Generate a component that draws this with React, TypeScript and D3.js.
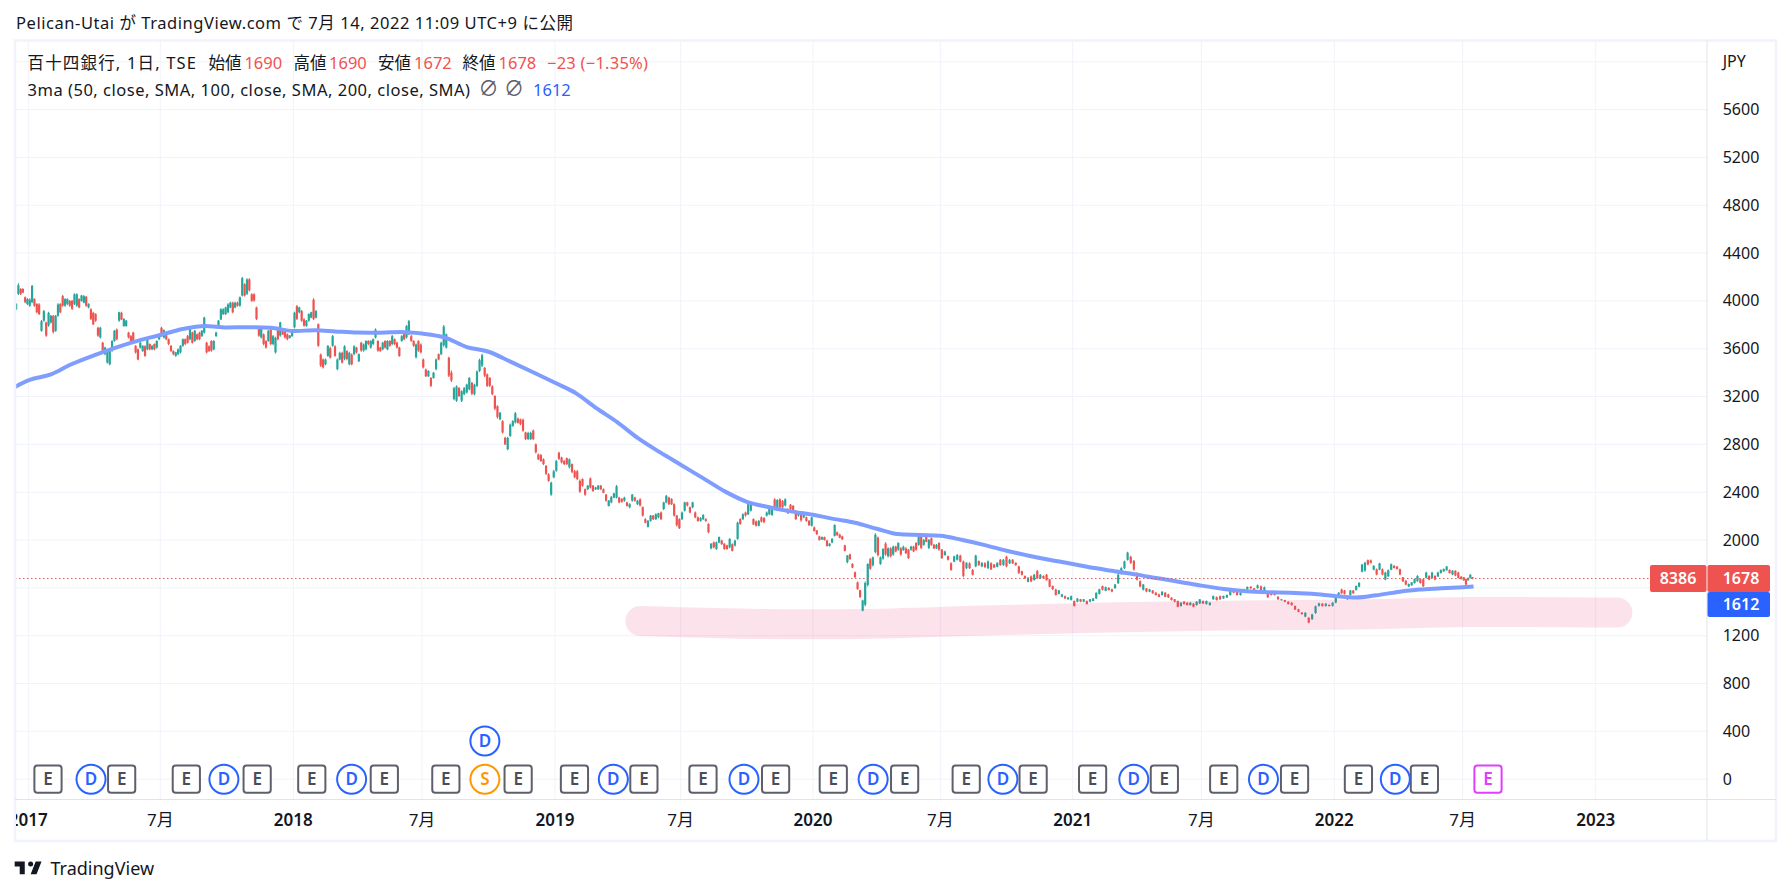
import * as d3 from 'd3';

type Bar = [number, number, number, number]; // open, high, low, close

const utc = (s: string) => new Date(s + 'T00:00:00Z');

// candles, one list per half year
const bars2017a: Bar[] = [[3930,3980,3924,3975],[4060,4148,4050,4130],[4100,4106,4050,4060],[4100,4106,4064,4070],[4030,4036,3980,3990],[3975,4022,3966,4015],[3960,4022,3952,4010],[3990,4134,3980,4125],[4015,4022,3952,3960],[3975,3980,3896,3905],[3970,3980,3882,3890],[3750,3840,3742,3830],[3835,3924,3826,3915],[3820,3826,3700,3710],[3795,3910,3784,3900],[3820,3882,3812,3875],[3875,3882,3728,3740],[3750,3882,3742,3875],[3875,3980,3868,3970],[3975,3980,3896,3905],[4040,4050,3952,3960],[3960,4022,3952,4015],[3975,4022,3966,4015],[4000,4008,3952,3960],[4000,4008,3924,3935],[3975,4064,3966,4055],[3960,4064,3952,4055],[4015,4022,3938,3945],[4000,4050,3994,4045],[3985,4050,3980,4040],[4035,4042,3952,3960],[3945,3980,3938,3975],[3930,3938,3840,3850],[3900,3910,3798,3805],[3890,3896,3826,3835],[3775,3784,3700,3710],[3695,3784,3686,3775],[3650,3658,3560,3570],[3555,3616,3546,3610],[3485,3588,3476,3580],[3470,3602,3462,3595],[3585,3672,3574,3665],[3665,3756,3658,3750],[3760,3770,3672,3680],[3835,3910,3826,3905],[3900,3910,3840,3845],[3790,3854,3784,3850],[3790,3840,3784,3835],[3735,3742,3686,3695],[3705,3714,3658,3665],[3735,3742,3644,3655],[3625,3630,3560,3570],[3595,3602,3504,3510],[3610,3658,3602,3650],[3580,3630,3574,3625],[3620,3630,3532,3540],[3595,3686,3588,3680],[3640,3644,3588,3595],[3595,3630,3588,3625],[3640,3644,3588,3595],[3610,3672,3602,3665],[3680,3728,3672,3720]];
const bars2017b: Bar[] = [[3775,3784,3700,3710],[3695,3762,3686,3755],[3720,3728,3672,3680],[3680,3686,3630,3640],[3625,3630,3574,3580],[3580,3588,3546,3555],[3540,3574,3532,3570],[3555,3602,3546,3595],[3570,3630,3560,3625],[3625,3686,3616,3680],[3680,3686,3630,3640],[3705,3714,3644,3650],[3680,3784,3672,3775],[3735,3742,3644,3650],[3665,3756,3658,3750],[3720,3728,3672,3680],[3735,3742,3672,3680],[3705,3756,3700,3750],[3735,3868,3728,3860],[3650,3658,3560,3570],[3620,3630,3574,3580],[3665,3672,3574,3585],[3595,3672,3588,3665],[3705,3742,3700,3735],[3775,3840,3770,3835],[3845,3938,3840,3930],[3890,3938,3882,3930],[3890,3952,3882,3945],[3905,3980,3896,3970],[3945,3994,3938,3985],[3985,3994,3896,3905],[3945,3994,3938,3985],[3985,3994,3952,3960],[3960,4036,3952,4030],[4045,4199,4036,4190],[4140,4148,4036,4045],[4060,4190,4050,4180],[4180,4190,4078,4090],[4055,4064,3994,4000],[4055,4064,3994,4005],[3945,3952,3840,3850],[3775,3784,3700,3710],[3695,3784,3686,3775],[3720,3728,3630,3640],[3665,3672,3602,3610],[3665,3756,3658,3750],[3760,3770,3630,3640],[3640,3714,3630,3705],[3570,3700,3560,3690],[3760,3770,3672,3680],[3710,3826,3700,3820],[3765,3770,3714,3720],[3760,3770,3686,3695],[3720,3728,3672,3680],[3690,3714,3686,3710],[3705,3756,3700,3750]];
const bars2018a: Bar[] = [[3780,3910,3770,3900],[3955,3966,3840,3850],[3905,3952,3896,3945],[3915,3924,3826,3835],[3845,3854,3784,3795],[3790,3840,3784,3835],[3835,3896,3826,3890],[3860,3910,3854,3905],[4010,4022,3840,3850],[3860,3924,3854,3915],[3805,3812,3616,3625],[3550,3560,3448,3460],[3510,3518,3434,3445],[3470,3518,3462,3510],[3540,3630,3532,3625],[3605,3616,3518,3525],[3625,3714,3616,3705],[3620,3630,3532,3540],[3430,3518,3420,3510],[3510,3574,3504,3565],[3565,3574,3476,3485],[3515,3630,3504,3620],[3580,3588,3504,3515],[3470,3574,3462,3565],[3550,3560,3462,3470],[3555,3630,3546,3620],[3610,3616,3560,3570],[3495,3560,3490,3555],[3650,3658,3574,3585],[3585,3644,3574,3635],[3595,3672,3588,3665],[3665,3672,3630,3640],[3610,3672,3602,3665],[3640,3686,3630,3680],[3695,3770,3686,3760],[3665,3672,3574,3585],[3610,3616,3574,3580],[3595,3658,3588,3650],[3665,3672,3602,3610],[3595,3672,3588,3665],[3665,3672,3616,3625],[3640,3714,3630,3705],[3680,3686,3630,3640],[3650,3658,3602,3610],[3610,3616,3532,3540],[3665,3714,3658,3705],[3735,3742,3672,3680],[3695,3798,3686,3790],[3725,3840,3714,3830],[3705,3714,3658,3665],[3665,3672,3616,3625],[3530,3644,3518,3635],[3665,3672,3574,3585],[3635,3644,3560,3570]];
const bars2018b: Bar[] = [[3510,3518,3434,3445],[3425,3434,3364,3370],[3370,3420,3364,3415],[3355,3364,3280,3290],[3355,3406,3350,3400],[3430,3518,3420,3510],[3555,3560,3504,3510],[3555,3658,3546,3650],[3630,3798,3616,3785],[3610,3728,3602,3720],[3525,3532,3364,3375],[3400,3419,3322,3335],[3180,3280,3169,3270],[3165,3294,3155,3285],[3270,3280,3197,3205],[3165,3252,3155,3245],[3220,3280,3211,3270],[3235,3308,3225,3300],[3260,3364,3253,3355],[3315,3322,3211,3225],[3220,3308,3211,3300],[3290,3419,3280,3410],[3415,3517,3405,3505],[3460,3558,3447,3545],[3440,3447,3364,3375],[3385,3392,3280,3290],[3355,3364,3280,3290],[3285,3294,3211,3220],[3205,3211,3086,3100],[3120,3127,3016,3030],[3010,3072,3002,3065],[2995,3002,2891,2900],[2855,2863,2794,2800],[2760,2863,2752,2855],[2870,2974,2863,2965],[2955,3002,2947,2995],[2985,3072,2974,3060],[3015,3025,2974,2980],[3010,3016,2961,2970],[3005,3016,2905,2915],[2900,2905,2836,2845],[2845,2905,2836,2895],[2845,2905,2836,2895],[2915,2924,2836,2845],[2800,2808,2724,2735],[2715,2724,2669,2675],[2710,2719,2655,2660],[2675,2683,2627,2635],[2620,2627,2544,2555],[2550,2558,2488,2495],[2380,2488,2371,2480],[2525,2585,2516,2575]];
const bars2019a: Bar[] = [[2580,2669,2571,2660],[2730,2738,2669,2680],[2690,2697,2641,2650],[2660,2669,2627,2635],[2685,2691,2627,2635],[2610,2683,2599,2675],[2635,2641,2558,2570],[2575,2585,2516,2525],[2575,2585,2502,2510],[2495,2507,2396,2405],[2510,2516,2446,2455],[2425,2432,2371,2380],[2425,2460,2418,2455],[2515,2524,2432,2440],[2455,2460,2405,2410],[2425,2446,2418,2440],[2425,2460,2418,2455],[2455,2460,2418,2425],[2425,2432,2391,2395],[2380,2385,2321,2330],[2285,2335,2280,2330],[2315,2368,2307,2360],[2355,2396,2349,2390],[2355,2460,2349,2450],[2355,2363,2307,2315],[2345,2349,2313,2320],[2330,2363,2321,2355],[2315,2321,2280,2285],[2275,2307,2266,2300],[2330,2385,2321,2380],[2355,2363,2321,2330],[2300,2335,2293,2330],[2340,2349,2280,2290],[2275,2280,2196,2205],[2175,2182,2140,2145],[2110,2168,2104,2160],[2160,2210,2154,2205],[2205,2210,2168,2175],[2175,2224,2168,2215],[2190,2229,2182,2225],[2230,2238,2168,2175],[2260,2321,2252,2315],[2315,2377,2307,2370],[2355,2363,2293,2300],[2345,2349,2293,2300],[2300,2307,2196,2205],[2205,2210,2113,2125],[2175,2182,2093,2100]];
const bars2019b: Bar[] = [[2175,2238,2168,2230],[2245,2321,2238,2315],[2315,2321,2280,2290],[2275,2280,2224,2230],[2275,2321,2266,2315],[2230,2238,2182,2190],[2190,2196,2154,2160],[2160,2191,2154,2185],[2175,2216,2168,2210],[2175,2182,2154,2160],[2135,2140,2057,2065],[1930,1974,1924,1970],[1980,1988,1932,1940],[1925,1988,1918,1980],[1980,2029,1974,2025],[1995,2002,1960,1965],[1970,1974,1918,1925],[1955,1960,1918,1925],[1940,2015,1932,2010],[1965,1974,1904,1910],[1955,2002,1946,1995],[2010,2154,2002,2145],[2175,2182,2127,2135],[2175,2224,2168,2215],[2230,2238,2196,2205],[2215,2307,2210,2300],[2245,2321,2238,2310],[2175,2182,2127,2130],[2155,2163,2113,2120],[2120,2168,2113,2160],[2190,2196,2146,2155],[2185,2191,2140,2150],[2205,2238,2196,2230],[2215,2280,2210,2270],[2210,2280,2204,2270],[2340,2349,2252,2260],[2275,2341,2266,2335],[2340,2349,2266,2275],[2325,2335,2266,2275],[2290,2349,2280,2340],[2260,2266,2218,2225],[2295,2302,2252,2260],[2285,2293,2238,2245],[2245,2252,2168,2175],[2205,2238,2196,2230],[2230,2238,2154,2165],[2190,2229,2182,2225],[2190,2196,2154,2160],[2160,2168,2118,2125],[2120,2196,2113,2190]];
const bars2020a: Bar[] = [[2105,2113,2071,2075],[2080,2085,2043,2050],[2030,2035,1996,2000],[2005,2029,2002,2025],[2025,2029,1996,2000],[1995,2002,1946,1950],[1950,1974,1946,1970],[1980,2015,1974,2010],[2035,2132,2029,2125],[2065,2071,2035,2040],[2045,2052,2015,2020],[2030,2035,2002,2005],[1955,1960,1904,1910],[1815,1876,1807,1870],[1880,1885,1835,1840],[1800,1807,1765,1770],[1730,1737,1682,1690],[1645,1654,1585,1590],[1580,1585,1515,1525],[1410,1501,1404,1495],[1460,1654,1446,1640],[1625,1807,1612,1800],[1840,1849,1751,1760],[1790,1863,1779,1855],[1900,2057,1890,2045],[2020,2029,1863,1875],[1800,1863,1793,1855],[1845,1932,1835,1925],[1970,1981,1869,1880],[1865,1939,1855,1930],[1930,1939,1855,1865],[1880,1953,1869,1945],[1945,1953,1897,1905],[1920,1981,1911,1975],[1930,1939,1869,1880],[1915,1953,1911,1945],[1930,1939,1883,1890],[1920,1925,1842,1850],[1920,1953,1911,1945],[1945,1953,1897,1905],[1975,1981,1911,1920],[1960,2036,1953,2030],[2030,2036,1925,1935],[1960,2008,1953,2000],[2035,2042,1981,1985],[1935,2008,1925,2000],[2015,2022,1953,1960],[1960,1967,1925,1930],[1930,1967,1925,1960],[1975,1981,1911,1920]];
const bars2020b: Bar[] = [[1920,1925,1842,1850],[1875,1911,1869,1905],[1865,1869,1828,1835],[1805,1814,1744,1750],[1820,1869,1814,1865],[1835,1883,1828,1875],[1870,1878,1814,1820],[1820,1828,1689,1700],[1765,1814,1758,1810],[1805,1814,1758,1765],[1750,1758,1703,1710],[1780,1878,1772,1870],[1825,1828,1786,1790],[1780,1814,1772,1810],[1805,1814,1766,1775],[1765,1828,1758,1820],[1805,1814,1750,1755],[1795,1800,1766,1770],[1775,1814,1772,1810],[1835,1842,1786,1790],[1790,1842,1786,1835],[1860,1869,1772,1780],[1805,1842,1800,1835],[1835,1842,1800,1805],[1810,1814,1786,1790],[1780,1786,1716,1725],[1740,1744,1703,1710],[1700,1703,1675,1680],[1650,1689,1647,1685],[1695,1703,1647,1655],[1665,1716,1661,1710],[1740,1750,1675,1680],[1680,1716,1675,1710],[1700,1703,1675,1680],[1710,1716,1661,1665],[1670,1675,1605,1610],[1615,1619,1583,1590],[1585,1592,1536,1540],[1550,1583,1544,1580],[1525,1550,1522,1545],[1530,1536,1508,1512],[1505,1522,1500,1520],[1500,1536,1494,1530]];
const bars2021a: Bar[] = [[1490,1494,1444,1450],[1485,1516,1480,1510],[1505,1508,1480,1485],[1485,1508,1480,1505],[1490,1494,1461,1465],[1485,1508,1480,1505],[1490,1516,1488,1510],[1512,1564,1508,1558],[1550,1592,1544,1588],[1615,1619,1578,1585],[1575,1611,1572,1605],[1600,1605,1578,1582],[1588,1592,1564,1570],[1598,1633,1592,1628],[1640,1716,1633,1710],[1718,1772,1711,1765],[1765,1828,1758,1820],[1835,1903,1828,1895],[1860,1869,1800,1810],[1825,1833,1744,1755],[1722,1730,1661,1670],[1655,1661,1605,1612],[1585,1633,1578,1628],[1595,1600,1564,1570],[1568,1592,1564,1588],[1578,1583,1550,1555],[1560,1564,1536,1540],[1545,1550,1522,1525],[1540,1572,1536,1568],[1560,1564,1522,1525],[1545,1550,1516,1520],[1518,1522,1494,1498],[1505,1508,1480,1485],[1490,1494,1438,1442],[1448,1480,1444,1476],[1485,1488,1461,1465],[1476,1480,1452,1456],[1456,1480,1452,1476],[1468,1472,1438,1442],[1456,1488,1452,1484],[1470,1508,1466,1504]];
const bars2021b: Bar[] = [[1490,1494,1466,1470],[1465,1494,1461,1490],[1456,1480,1452,1476],[1505,1536,1500,1532],[1522,1527,1494,1498],[1530,1536,1500,1504],[1512,1536,1508,1532],[1520,1544,1516,1540],[1540,1578,1536,1574],[1588,1592,1555,1560],[1572,1578,1536,1540],[1540,1564,1536,1560],[1568,1592,1564,1588],[1588,1611,1583,1608],[1610,1614,1592,1596],[1596,1600,1578,1582],[1598,1628,1592,1622],[1612,1619,1555,1562],[1570,1611,1564,1605],[1560,1564,1516,1522],[1552,1555,1536,1540],[1558,1564,1536,1540],[1526,1530,1500,1504],[1497,1508,1494,1505],[1498,1500,1480,1484],[1484,1488,1461,1465],[1476,1480,1452,1456],[1448,1452,1416,1420],[1420,1425,1397,1400],[1394,1397,1377,1380],[1360,1397,1355,1392],[1350,1355,1305,1310],[1338,1383,1333,1378],[1390,1452,1383,1446],[1450,1475,1444,1470],[1468,1472,1444,1448],[1448,1472,1444,1468],[1458,1461,1444,1448],[1450,1480,1444,1476]];
const bars2022a: Bar[] = [[1478,1522,1472,1518],[1526,1564,1522,1560],[1586,1592,1550,1555],[1578,1583,1544,1550],[1530,1536,1500,1505],[1540,1583,1536,1578],[1578,1583,1550,1555],[1582,1619,1578,1615],[1610,1647,1605,1642],[1735,1800,1730,1795],[1745,1818,1734,1810],[1832,1838,1790,1795],[1830,1838,1804,1810],[1752,1790,1748,1785],[1755,1762,1706,1712],[1752,1810,1748,1805],[1755,1762,1706,1712],[1670,1734,1664,1728],[1698,1754,1692,1748],[1752,1804,1748,1798],[1785,1790,1762,1766],[1778,1782,1754,1758],[1755,1762,1706,1712],[1688,1692,1650,1655],[1660,1664,1622,1628],[1612,1636,1608,1632],[1622,1650,1617,1646],[1640,1678,1636,1674],[1656,1706,1650,1700],[1672,1678,1636,1640],[1672,1678,1608,1615],[1684,1734,1678,1728],[1700,1706,1664,1670],[1684,1734,1678,1728],[1700,1706,1664,1670],[1696,1734,1692,1728],[1724,1754,1720,1750],[1738,1762,1734,1758],[1748,1782,1743,1778],[1750,1754,1720,1724],[1712,1748,1706,1744],[1742,1748,1698,1704],[1728,1734,1678,1684],[1694,1698,1670,1674]];
const bars2022b: Bar[] = [[1688,1692,1659,1664],[1672,1678,1622,1628],[1664,1687,1659,1682],[1684,1715,1678,1710],[1690,1690,1672,1678]];

const barSpans: { bars: Bar[]; from: string; to: string }[] = [
  { bars: bars2017a, from: '2016-12-13', to: '2017-07-01' },
  { bars: bars2017b, from: '2017-07-01', to: '2018-01-01' },
  { bars: bars2018a, from: '2018-01-01', to: '2018-07-01' },
  { bars: bars2018b, from: '2018-07-01', to: '2019-01-01' },
  { bars: bars2019a, from: '2019-01-01', to: '2019-07-01' },
  { bars: bars2019b, from: '2019-07-01', to: '2020-01-01' },
  { bars: bars2020a, from: '2020-01-01', to: '2020-07-01' },
  { bars: bars2020b, from: '2020-07-01', to: '2021-01-01' },
  { bars: bars2021a, from: '2021-01-01', to: '2021-07-01' },
  { bars: bars2021b, from: '2021-07-01', to: '2022-01-01' },
  { bars: bars2022a, from: '2022-01-01', to: '2022-07-01' },
  { bars: bars2022b, from: '2022-07-01', to: '2022-07-16' },
];

// 200 day average: left edge, then the first of each month, then the last bar
const maStart = 3280;
const maMonthly = [
  3335, 3385, 3470, 3545, 3610, 3668, 3715, 3765, 3790, 3778, 3780, 3775,
  3748, 3755, 3745, 3735, 3734, 3740, 3727, 3695, 3614, 3575, 3490, 3405,
  3315, 3225, 3105, 2985, 2850, 2735, 2630, 2518, 2405, 2320, 2275, 2240,
  2212, 2175, 2145, 2095, 2050, 2042, 2036, 2000, 1958, 1911, 1869, 1833,
  1800, 1766, 1739, 1711, 1680, 1650, 1619, 1591, 1572, 1563, 1560, 1550,
  1533, 1519, 1538, 1566, 1586, 1596, 1606,
];
const maEnd = 1612;

const priceTicks = [0, 400, 800, 1200, 1600, 2000, 2400, 2800, 3200, 3600, 4000, 4400, 4800, 5200, 5600, 6000];
// 1600 sits under the last value tags, 6000 is where the currency goes
const hiddenPriceLabels = [1600, 6000];
const timeTicks = [
  { date: '2017-01-01', label: '2017', year: true },
  { date: '2017-07-01', label: '7月', year: false },
  { date: '2018-01-01', label: '2018', year: true },
  { date: '2018-07-01', label: '7月', year: false },
  { date: '2019-01-01', label: '2019', year: true },
  { date: '2019-07-01', label: '7月', year: false },
  { date: '2020-01-01', label: '2020', year: true },
  { date: '2020-07-01', label: '7月', year: false },
  { date: '2021-01-01', label: '2021', year: true },
  { date: '2021-07-01', label: '7月', year: false },
  { date: '2022-01-01', label: '2022', year: true },
  { date: '2022-07-01', label: '7月', year: false },
  { date: '2023-01-01', label: '2023', year: true },
];
const tickPixels = [28.3, 160.3, 293.3, 422, 555, 680.7, 813, 940.3, 1072.7, 1201.3, 1334.3, 1462.7, 1595.7];

const earnings = [
  '2017-01-28', '2017-05-09', '2017-08-06', '2017-11-12', '2018-01-27', '2018-05-09', '2018-08-03', '2018-11-11',
  '2019-01-29', '2019-05-09', '2019-08-01', '2019-11-10', '2020-01-30', '2020-05-11', '2020-08-06', '2020-11-07',
  '2021-01-29', '2021-05-10', '2021-08-01', '2021-11-07', '2022-02-04', '2022-05-08',
];
const nextEarnings = '2022-08-05';
const dividends = [
  '2017-03-28', '2017-09-27', '2018-03-24', '2019-03-26', '2019-09-27', '2020-03-27',
  '2020-09-26', '2021-03-28', '2021-09-25', '2022-03-28',
];
const splitDate = '2018-09-26';

// the hand drawn marker stroke
const brushDates = ['2019-05-04', '2019-10-19', '2020-03-08', '2020-09-22', '2021-06-19', '2022-02-06', '2022-07-07', '2023-01-31'];
const brushPrices = [1323, 1298, 1298, 1331, 1365, 1377, 1398, 1394];

const lastClose = 1678;
const lastMa = 1612;

const UP = '#26a69a';
const DOWN = '#ef5350';
const BLUE = '#2962ff';
const INK = '#131722';
const FONT = "'Noto Sans','Noto Sans CJK JP',sans-serif";

const plot = { left: 15, right: 1707, top: 40.5, bottom: 799.5, frameRight: 1776, frameBottom: 841 };

const x = d3.scaleUtc()
  .domain([utc('2016-12-13'), ...timeTicks.map(t => utc(t.date)), utc('2023-07-01')])
  .range([15, ...tickPixels, 1726]);
const y = d3.scaleLinear().domain([0, 5600]).range([779.2, 109.6]);

const candles = barSpans.flatMap(({ bars, from, to }) => {
  const a = +utc(from);
  const b = +utc(to);
  return bars.map((bar, i) => ({ date: new Date(a + ((i + 0.5) * (b - a)) / bars.length), bar }));
});

const maPoints: [Date, number][] = [
  [utc('2016-12-13'), maStart],
  ...d3.utcMonth.range(utc('2017-01-01'), utc('2022-08-01')).map((d, i) => [d, maMonthly[i]] as [Date, number]),
  [utc('2022-07-16'), maEnd],
];
const maLine = d3.line<[Date, number]>().x(d => x(d[0])).y(d => y(d[1])).curve(d3.curveMonotoneX);
const brushLine = d3.line<string>()
  .x(d => x(utc(d)))
  .y((_, i) => y(brushPrices[i]))
  .curve(d3.curveCatmullRom);

function SquareMark({ cx, cy, color, label }: { cx: number; cy: number; color: string; label: string }) {
  return (
    <g>
      <rect x={cx - 13.6} y={cy - 13.6} width={27.2} height={27.2} rx={3} fill="#fff" stroke={color} strokeWidth={2} />
      <text x={cx} y={cy + 6} textAnchor="middle" fontSize={17} fontWeight={600} fill={color === '#5d606b' ? '#4a4d57' : color}>{label}</text>
    </g>
  );
}

function RoundMark({ cx, cy, color, label }: { cx: number; cy: number; color: string; label: string }) {
  return (
    <g>
      <circle cx={cx} cy={cy} r={14.5} fill="#fff" stroke={color} strokeWidth={2} />
      <text x={cx} y={cy + 6} textAnchor="middle" fontSize={17} fontWeight={600} fill={color}>{label}</text>
    </g>
  );
}

export default function App() {
  const markY = y(0);
  return (
    <svg width={1791} height={894} style={{ position: 'absolute', left: 0, top: 0, background: '#fff' }} fontFamily={FONT}>
      <defs>
        <clipPath id="plot-clip">
          <rect x={plot.left} y={plot.top} width={plot.right - plot.left} height={plot.bottom - plot.top} />
        </clipPath>
        <clipPath id="time-clip">
          <rect x={plot.left + 1} y={plot.bottom} width={plot.right - plot.left} height={plot.frameBottom - plot.bottom} />
        </clipPath>
      </defs>

      <text x={16} y={28.5} fontSize={16.5} fill={INK} textLength={557} lengthAdjust="spacing">Pelican-Utai が TradingView.com で 7月 14, 2022 11:09 UTC+9 に公開</text>

      {/* grid */}
      <g stroke="#f0f3fa" strokeWidth={1}>
        {priceTicks.map(p => <line key={p} x1={plot.left} x2={plot.right} y1={y(p)} y2={y(p)} />)}
        {timeTicks.map(t => <line key={t.date} x1={x(utc(t.date))} x2={x(utc(t.date))} y1={plot.top} y2={plot.bottom} />)}
      </g>

      {/* candles */}
      <g clipPath="url(#plot-clip)">
        {candles.map(({ date, bar: [o, h, l, c] }, i) => {
          const px = x(date);
          const color = c >= o ? UP : DOWN;
          return (
            <g key={i} fill={color} stroke={color}>
              <line x1={px} x2={px} y1={y(h)} y2={y(l)} strokeWidth={1.1} />
              <rect x={px - 1.1} width={2.2} y={y(Math.max(o, c))} height={Math.max(1, Math.abs(y(o) - y(c)))} stroke="none" />
            </g>
          );
        })}
        <path d={maLine(maPoints)!} fill="none" stroke="#7f9dff" strokeWidth={4} strokeLinejoin="round" />
        <path d={brushLine(brushDates)!} fill="none" stroke="#e91e63" strokeOpacity={0.13} strokeWidth={30} strokeLinecap="round" />
        <line x1={plot.left} x2={1650} y1={y(lastClose)} y2={y(lastClose)} stroke={DOWN} strokeWidth={1} strokeDasharray="1.5 2.5" />
      </g>

      {/* event marks */}
      <g>
        {earnings.map(d => <SquareMark key={d} cx={x(utc(d))} cy={markY} color="#5d606b" label="E" />)}
        {dividends.map(d => <RoundMark key={d} cx={x(utc(d))} cy={markY} color={BLUE} label="D" />)}
        <RoundMark cx={x(utc(splitDate))} cy={markY} color="#ff9800" label="S" />
        <RoundMark cx={x(utc(splitDate))} cy={y(320)} color={BLUE} label="D" />
        <SquareMark cx={x(utc(nextEarnings))} cy={markY} color="#e040fb" label="E" />
      </g>

      {/* frame and axis rules */}
      <rect x={plot.left} y={plot.top} width={plot.frameRight - plot.left} height={plot.frameBottom - plot.top} fill="none" stroke="#f0f3fa" strokeWidth={2.5} />
      <line x1={plot.right} x2={plot.right} y1={plot.top} y2={plot.frameBottom} stroke="#e0e3eb" strokeWidth={1} />
      <line x1={plot.left} x2={plot.frameRight} y1={plot.bottom} y2={plot.bottom} stroke="#e0e3eb" strokeWidth={1} />

      {/* legend */}
      <g fontSize={16.5}>
        <text x={27.5} y={69} fill={INK} textLength={168.5} lengthAdjust="spacing">百十四銀行, 1日, TSE</text>
        <text x={208.5} y={69} fill={INK}>始値</text>
        <text x={244.4} y={69} fill={DOWN}>1690</text>
        <text x={293.5} y={69} fill={INK}>高値</text>
        <text x={329} y={69} fill={DOWN}>1690</text>
        <text x={378} y={69} fill={INK}>安値</text>
        <text x={414} y={69} fill={DOWN}>1672</text>
        <text x={462.6} y={69} fill={INK}>終値</text>
        <text x={498.5} y={69} fill={DOWN}>1678</text>
        <text x={547} y={69} fill={DOWN} textLength={101} lengthAdjust="spacing">−23 (−1.35%)</text>
        <text x={27.5} y={96} fill={INK} textLength={442.5} lengthAdjust="spacing">3ma (50, close, SMA, 100, close, SMA, 200, close, SMA)</text>
        <text x={488.5} y={96} fill="#5d606b" fontSize={20} textAnchor="middle">∅</text>
        <text x={514} y={96} fill="#5d606b" fontSize={20} textAnchor="middle">∅</text>
        <text x={533} y={96} fill={BLUE}>{lastMa}</text>
      </g>

      {/* price scale */}
      <g fontSize={16} fill={INK}>
        {priceTicks.filter(p => !hiddenPriceLabels.includes(p)).map(p => <text key={p} x={1722.7} y={y(p) + 5.5}>{p}</text>)}
        <text x={1722.7} y={67}>JPY</text>
      </g>

      {/* time scale */}
      <g clipPath="url(#time-clip)" fontSize={17} fill={INK} textAnchor="middle">
        {timeTicks.map(t => (
          <text key={t.date} x={x(utc(t.date))} y={826} fontWeight={t.year ? 600 : 400}>{t.label}</text>
        ))}
      </g>

      {/* last value tags */}
      <g fontSize={16} fontWeight={600} fill="#fff" textAnchor="middle">
        <rect x={1650} y={565} width={56.5} height={27} rx={2} fill={DOWN} />
        <rect x={1707.5} y={565} width={62.5} height={27} rx={2} fill={DOWN} />
        <rect x={1707.5} y={592} width={62.5} height={25} rx={2} fill={BLUE} />
        <text x={1678} y={584}>8386</text>
        <text x={1741} y={584}>{lastClose}</text>
        <text x={1741} y={610}>{lastMa}</text>
      </g>

      {/* TradingView mark */}
      <g transform="translate(13,856.5) scale(0.84)" fill={INK}>
        <path d="M14 6H2v6h6v9h6V6Zm14 15h-7l6-15h7l-6 15Zm-7-9a3 3 0 1 0 0-6 3 3 0 0 0 0 6Z" />
      </g>
      <text x={50.5} y={875} fontSize={18} fill={INK}>TradingView</text>
    </svg>
  );
}
